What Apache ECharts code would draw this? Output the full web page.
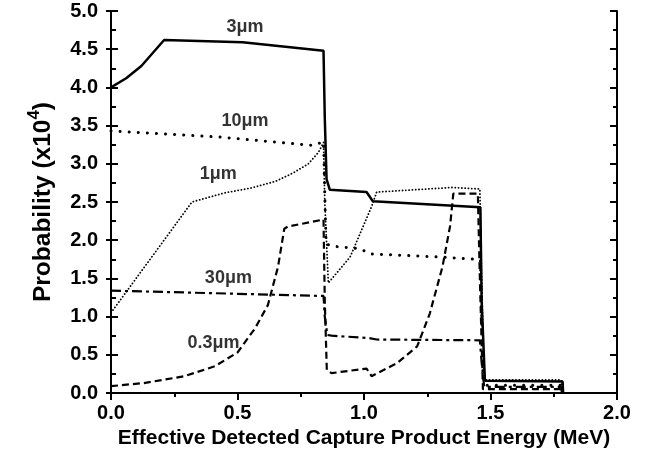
<!DOCTYPE html>
<html>
<head>
<meta charset="utf-8">
<script src="https://cdn.jsdelivr.net/npm/echarts@6/dist/echarts.min.js"></script>
<style>html,body{margin:0;padding:0;background:#fff;}#c{width:646px;height:460px;}</style>
</head>
<body>
<div id="c"></div>
<script>
// x ticks and y ticks
const xTicks = [0.0, 0.5, 1.0, 1.5, 2.0];
const yTicks = [0.0, 0.5, 1.0, 1.5, 2.0, 2.5, 3.0, 3.5, 4.0, 4.5, 5.0];

// series values: [energy MeV, probability x1e4]
const s3um = [[0,4.0],[0.06,4.12],[0.12,4.28],[0.21,4.62],[0.52,4.59],[0.84,4.48],[0.845,3.6],[0.852,2.8],[0.865,2.66],[1.01,2.63],[1.035,2.51],[1.46,2.43],[1.465,1.2],[1.478,0.16],[1.785,0.15],[1.787,0.0]];
const s10um = [[0,3.43],[0.43,3.35],[0.80,3.24],[0.84,3.29],[0.845,2.6],[0.85,1.95],[0.88,1.92],[0.98,1.89],[1.03,1.82],[1.30,1.78],[1.44,1.75],[1.46,1.74],[1.465,1.0],[1.475,0.1],[1.78,0.1],[1.782,0.0]];
const s1um = [[0,1.05],[0.32,2.5],[0.45,2.62],[0.55,2.68],[0.65,2.77],[0.72,2.88],[0.78,3.0],[0.82,3.15],[0.84,3.28],[0.845,2.5],[0.859,1.44],[0.945,1.78],[1.03,2.44],[1.05,2.63],[1.35,2.69],[1.458,2.67],[1.465,1.5],[1.475,0.17],[1.78,0.17],[1.782,0.0]];
const s03um = [[0,0.09],[0.13,0.13],[0.29,0.22],[0.41,0.35],[0.5,0.53],[0.57,0.85],[0.62,1.15],[0.66,1.65],[0.685,2.15],[0.7,2.18],[0.84,2.27],[0.845,1.2],[0.853,0.3],[0.872,0.26],[1.01,0.32],[1.03,0.22],[1.13,0.39],[1.21,0.61],[1.26,1.04],[1.31,1.65],[1.34,2.18],[1.353,2.61],[1.45,2.61],[1.458,1.5],[1.47,0.05],[1.78,0.05],[1.782,0.0]];
const s30um = [[0,1.34],[0.84,1.27],[0.845,1.0],[0.855,0.76],[0.872,0.75],[1.017,0.72],[1.05,0.70],[1.458,0.69],[1.465,0.4],[1.475,0.08],[1.78,0.08],[1.782,0.0]];

// curve labels
const labelTexts = ['3\u03bcm','10\u03bcm','1\u03bcm','30\u03bcm','0.3\u03bcm'];
const labelPos = [[0.53,4.79],[0.53,3.56],[0.424,2.86],[0.464,1.50],[0.405,0.66]];

const chart = echarts.init(document.getElementById('c'), null, {renderer:'canvas'});
const font = 'Liberation Sans, Arial, Helvetica, sans-serif';
const black = '#000';
const axLine = {show:true, lineStyle:{color:black, width:2}};

function lineSeries(data, width, type, cap) {
  return {type:'line', data:data, showSymbol:false, symbol:'none', xAxisIndex:0, yAxisIndex:0,
    lineStyle:{color:black, width:width, type:type, cap:cap||'butt'}, animation:false, silent:true};
}

chart.setOption({
  backgroundColor:'#fff',
  animation:false,
  grid:{left:111, right:29, top:11, bottom:67, containLabel:false},
  xAxis:[
    {type:'value', position:'bottom', min:xTicks[0], max:xTicks[xTicks.length-1], interval:0.5,
     axisLine:axLine, splitLine:{show:false},
     axisTick:{show:true, inside:false, length:7, lineStyle:{color:black, width:2}},
     minorTick:{show:true, splitNumber:2, length:4, lineStyle:{color:black, width:2}},
     axisLabel:{color:black, fontFamily:font, fontWeight:'bold', fontSize:20, margin:10,
       formatter:v=>v.toFixed(1)},
     name:'Effective Detected Capture Product Energy (MeV)', nameLocation:'middle', nameGap:35,
     nameTextStyle:{color:black, fontFamily:font, fontWeight:'bold', fontSize:21}},
    {type:'value', position:'top', min:xTicks[0], max:xTicks[xTicks.length-1], interval:0.5,
     axisLine:axLine, splitLine:{show:false}, axisLabel:{show:false},
     axisTick:{show:true, inside:true, length:7, lineStyle:{color:black, width:2}},
     minorTick:{show:true, splitNumber:2, length:4, lineStyle:{color:black, width:2}}}
  ],
  yAxis:[
    {type:'value', position:'left', min:yTicks[0], max:yTicks[yTicks.length-1], interval:0.5,
     axisLine:axLine, splitLine:{show:false},
     axisTick:{show:true, inside:false, length:5, lineStyle:{color:black, width:2}},
     axisLabel:{color:black, fontFamily:font, fontWeight:'bold', fontSize:20, margin:13,
       formatter:v=>v.toFixed(1)},
     name:'{a|Probability (x10}{s|4}{a|)}', nameLocation:'middle', nameGap:53, nameRotate:90,
     nameTextStyle:{color:black, rich:{
       a:{fontFamily:font, fontWeight:'bold', fontSize:24.5, color:black, lineHeight:30},
       s:{fontFamily:font, fontWeight:'bold', fontSize:17, color:black, lineHeight:30, padding:[0,0,16,0]}}}},
    {type:'value', position:'left', min:yTicks[0], max:yTicks[yTicks.length-1], interval:0.5,
     axisLine:{show:false}, splitLine:{show:false}, axisLabel:{show:false},
     axisTick:{show:true, inside:true, length:7, lineStyle:{color:black, width:2}},
     minorTick:{show:true, splitNumber:2, length:5, lineStyle:{color:black, width:2}}},
    {type:'value', position:'right', min:yTicks[0], max:yTicks[yTicks.length-1], interval:0.5,
     axisLine:axLine, splitLine:{show:false}, axisLabel:{show:false},
     axisTick:{show:true, inside:true, length:7, lineStyle:{color:black, width:2}},
     minorTick:{show:true, splitNumber:2, length:4, lineStyle:{color:black, width:2}}}
  ],
  series:[
    lineSeries(s3um, 2.5, 'solid'),
    lineSeries(s10um, 3, [0.1, 9], 'round'),
    lineSeries(s1um, 1.8, [0.1, 3.2], 'round'),
    lineSeries(s03um, 2.2, [7, 4]),
    lineSeries(s30um, 2.2, [10, 4, 3, 4]),
    {type:'scatter', xAxisIndex:0, yAxisIndex:0, symbolSize:0, silent:true,
     data: labelPos.map((p,i)=>({value:p, name:labelTexts[i]})),
     label:{show:true, position:'inside', formatter:p=>p.name, color:black,
       fontFamily:font, fontWeight:'bold', fontSize:18}}
  ]
});
</script>
</body>
</html>
